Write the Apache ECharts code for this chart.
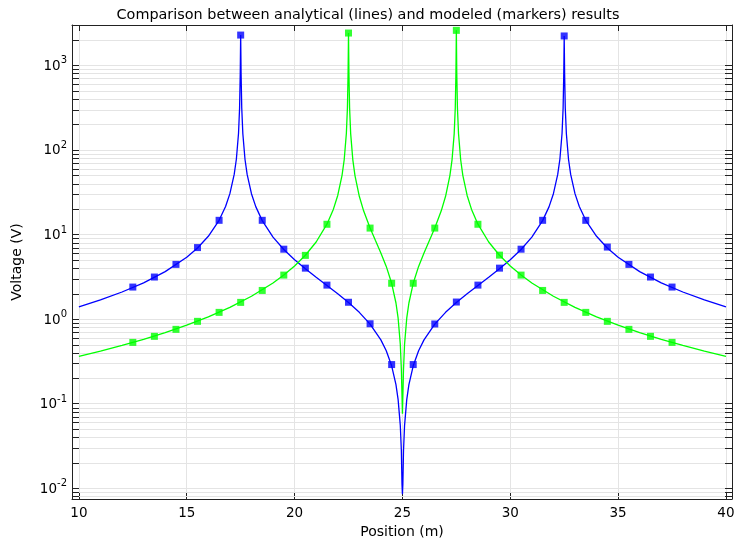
<!DOCTYPE html>
<html><head><meta charset="utf-8">
<script src="https://cdn.jsdelivr.net/npm/echarts@6/dist/echarts.min.js"></script>
<style>html,body{margin:0;padding:0;background:#fff}#c{width:736px;height:541px}</style>
</head><body><div id="c"></div>
<script>
const titleText = 'Comparison between analytical (lines) and modeled (markers) results';
const xName = 'Position (m)';
const yName = 'Voltage (V)';
const xTickLabels = [10, 15, 20, 25, 30, 35, 40];
const yDecades = [-3, -2, -1, 0, 1, 2, 3];
const yMantissas = [2, 3, 4, 5, 6, 7, 8, 9];

// Analytical curves (lines)
const blueLineX = [10, 11, 12, 13, 14, 15, 15.5, 16, 16.5, 16.8, 17, 17.2, 17.3, 17.4, 17.45, 17.48, 17.5,
  17.52, 17.55, 17.6, 17.7, 17.8, 18, 18.2, 18.5, 19, 19.5, 20, 20.5, 21, 21.5, 22, 22.5, 23, 23.5, 24, 24.25,
  24.5, 24.7, 24.8, 24.9, 24.95, 24.98, 25,
  25.02, 25.05, 25.1, 25.2, 25.3, 25.5, 25.75, 26, 26.5, 27, 27.5, 28, 28.5, 29, 29.5, 30, 30.5, 31, 31.5,
  31.8, 32, 32.2, 32.3, 32.4, 32.45, 32.48, 32.5, 32.52, 32.55, 32.6, 32.7, 32.8, 33, 33.2, 33.5, 34, 34.5,
  35, 36, 37, 38, 39, 40];
const blueLineY = [1.396, 1.685, 2.089, 2.684, 3.637, 5.383, 6.926, 9.515, 14.72, 21.43, 30.39, 51.31, 77.47, 156.0, 313.0, 784.0, 2275,
  783.9, 312.9, 155.9, 77.44, 51.27, 30.32, 21.33, 14.58, 9.304, 6.642, 5.024, 3.925, 3.120, 2.498, 1.994, 1.570, 1.202, 0.8722, 0.5683, 0.4229,
  0.2804, 0.1677, 0.1117, 0.05584, 0.02791, 0.01117, 0.0085,
  0.01117, 0.02791, 0.05584, 0.1117, 0.1677, 0.2804, 0.4229, 0.5683, 0.8722, 1.202, 1.570, 1.994, 2.498, 3.120, 3.925, 5.024, 6.642, 9.304, 14.58,
  21.33, 30.32, 51.27, 77.44, 155.9, 312.9, 783.9, 2220, 784.0, 313.0, 156.0, 77.47, 51.31, 30.39, 21.43, 14.72, 9.515, 6.926,
  5.383, 3.637, 2.684, 2.089, 1.685, 1.396];

const greenLineX = [10, 11, 12, 13, 14, 15, 16, 17, 18, 19, 19.5, 20, 20.5, 21, 21.5, 21.8, 22, 22.2, 22.3, 22.4, 22.45, 22.48, 22.5,
  22.52, 22.55, 22.6, 22.7, 22.8, 23, 23.2, 23.5, 23.75, 24, 24.25, 24.5, 24.7, 24.8, 24.9, 24.95, 25,
  25.05, 25.1, 25.2, 25.3, 25.5, 25.75, 26, 26.25, 26.5, 26.8, 27, 27.2, 27.3, 27.4, 27.45, 27.48, 27.5,
  27.52, 27.55, 27.6, 27.7, 27.8, 28, 28.2, 28.5, 29, 29.5, 30, 30.5, 31, 32, 33, 34, 35, 36, 37, 38, 39, 40];
const greenLineY = [0.3634, 0.4190, 0.4885, 0.5771, 0.6928, 0.8480, 1.064, 1.377, 1.860, 2.672, 3.313, 4.240, 5.679, 8.154, 13.25, 19.92, 28.91, 50.00, 76.44, 155.9, 314.9, 791.8, 2404,
  791.8, 314.8, 155.8, 76.19, 49.62, 28.27, 19.02, 11.93, 8.480, 6.057, 4.193, 2.650, 1.549, 1.024, 0.5096, 0.2545, 0.076,
  0.2545, 0.5096, 1.024, 1.549, 2.650, 4.193, 6.057, 8.480, 11.93, 19.02, 28.27, 49.62, 76.19, 155.8, 314.8, 791.8, 2586,
  791.8, 314.9, 155.9, 76.44, 50.00, 28.91, 19.92, 13.25, 8.154, 5.679, 4.240, 3.313, 2.672, 1.860, 1.377, 1.064, 0.8480, 0.6928, 0.5771, 0.4885, 0.4190, 0.3634];

// Modeled results (markers)
const markerX = [12.5, 13.5, 14.5, 15.5, 16.5, 17.5, 18.5, 19.5, 20.5, 21.5, 22.5, 23.5, 24.5,
  25.5, 26.5, 27.5, 28.5, 29.5, 30.5, 31.5, 32.5, 33.5, 34.5, 35.5, 36.5, 37.5];
const blueMarkerY = [2.39, 3.14, 4.43, 7.0, 14.7, 2275, 14.7, 6.7, 4.0, 2.52, 1.58, 0.88, 0.29,
  0.29, 0.875, 1.59, 2.52, 4.0, 6.7, 14.7, 2220, 14.7, 7.1, 4.43, 3.14, 2.39];
const greenMarkerY = [0.53, 0.625, 0.756, 0.94, 1.2, 1.575, 2.18, 3.31, 5.66, 13.2, 2404, 11.9, 2.65,
  2.65, 11.9, 2586, 13.2, 5.7, 3.31, 2.18, 1.575, 1.2, 0.94, 0.756, 0.625, 0.53];

const X_MIN = 9.68, X_MAX = 40.28;
const Y_MIN = 0.00747, Y_MAX = 2992;
const FONT = 'DejaVu Sans';
const BLUE = '#0000ff', GREEN = '#00ff00';
const AXIS_COLOR = '#222';
const GRID_COLOR = '#e4e4e4';

const yMinorTicks = [];
yDecades.forEach(e => yMantissas.forEach(m => {
  const v = m * Math.pow(10, e);
  if (v >= Y_MIN && v <= Y_MAX) yMinorTicks.push(v);
}));

const pairs = (xs, ys) => xs.map((x, i) => [x, ys[i]]);

function isDecade(v) {
  const e = Math.log10(v);
  return Math.abs(e - Math.round(e)) < 1e-6;
}

const chart = echarts.init(document.getElementById('c'), null, {renderer: 'canvas'});
const baseX = {
  type: 'value', min: X_MIN, max: X_MAX,
  axisLine: {show: true, onZero: false, lineStyle: {color: AXIS_COLOR, width: 1}},
  splitLine: {show: false}
};
const baseY = {
  type: 'log', logBase: 10, min: Y_MIN, max: Y_MAX,
  axisLine: {show: true, onZero: false, lineStyle: {color: AXIS_COLOR, width: 1}},
  splitLine: {show: false}
};
chart.setOption({
  animation: false,
  backgroundColor: '#fff',
  textStyle: {fontFamily: FONT},
  title: {
    text: titleText, left: 'center', top: 3,
    textStyle: {fontFamily: FONT, fontSize: 14.4, fontWeight: 'normal', color: '#000'}
  },
  grid: {left: 72, right: 4, top: 25, bottom: 42, containLabel: false, outerBoundsMode: 'none'},
  xAxis: [
    Object.assign({}, baseX, {
      position: 'bottom',
      name: xName, nameLocation: 'middle', nameGap: 19,
      nameTextStyle: {fontFamily: FONT, fontSize: 14, color: '#000'},
      axisTick: {show: true, inside: true, length: 6, lineStyle: {color: AXIS_COLOR}},
      axisLabel: {
        show: true, margin: 7, fontFamily: FONT, fontSize: 13.5, color: '#000',
        showMinLabel: true, showMaxLabel: true,
        formatter: v => xTickLabels.indexOf(Math.round(v * 1000) / 1000) >= 0 ? String(v) : ''
      },
      splitLine: {show: true, lineStyle: {color: GRID_COLOR, width: 1}}
    }),
    Object.assign({}, baseX, {
      position: 'top',
      axisTick: {show: true, inside: true, length: 6, lineStyle: {color: AXIS_COLOR}},
      axisLabel: {show: false}
    })
  ],
  yAxis: [
    Object.assign({}, baseY, {
      position: 'left',
      name: yName, nameLocation: 'middle', nameGap: 48, nameRotate: 90,
      nameTextStyle: {fontFamily: FONT, fontSize: 14, color: '#000'},
      axisTick: {show: true, inside: true, length: 7, lineStyle: {color: AXIS_COLOR}},
      axisLabel: {
        show: true, margin: 5, color: '#000',
        formatter: v => {
          if (!isDecade(v)) return '';
          const e = Math.round(Math.log10(v));
          return '{b|10}{s|' + e + '}';
        },
        rich: {
          b: {fontFamily: FONT, fontSize: 13.5, color: '#000', lineHeight: 19, padding: [2, 0, 0, 0]},
          s: {fontFamily: FONT, fontSize: 10, color: '#000', verticalAlign: 'top', lineHeight: 11}
        }
      },
      splitLine: {show: true, lineStyle: {color: GRID_COLOR, width: 1}}
    }),
    Object.assign({}, baseY, {
      position: 'right',
      axisTick: {show: true, inside: true, length: 7, lineStyle: {color: AXIS_COLOR}},
      axisLabel: {show: false}
    })
  ],
  series: [
    {
      type: 'custom', name: 'minor', xAxisIndex: 0, yAxisIndex: 0, z: 1, silent: true, clip: false,
      data: yMinorTicks.map(v => [X_MIN, v]),
      renderItem: (params, api) => {
        const pt = api.coord([X_MIN, api.value(1)]);
        const cs = params.coordSys;
        const y = Math.round(pt[1]) + 0.5;
        return {type: 'group', children: [
          {type: 'line', shape: {x1: cs.x, y1: y, x2: cs.x + cs.width, y2: y}, style: {stroke: GRID_COLOR, lineWidth: 1}},
          {type: 'line', shape: {x1: cs.x, y1: y, x2: cs.x + 7, y2: y}, style: {stroke: AXIS_COLOR, lineWidth: 1}},
          {type: 'line', shape: {x1: cs.x + cs.width - 7, y1: y, x2: cs.x + cs.width, y2: y}, style: {stroke: AXIS_COLOR, lineWidth: 1}}
        ]};
      }
    },
    {
      type: 'line', name: 'blue analytical', xAxisIndex: 0, yAxisIndex: 0, z: 3,
      data: pairs(blueLineX, blueLineY), showSymbol: false, symbol: 'none',
      lineStyle: {color: BLUE, width: 1.3}, silent: true
    },
    {
      type: 'line', name: 'green analytical', xAxisIndex: 0, yAxisIndex: 0, z: 3,
      data: pairs(greenLineX, greenLineY), showSymbol: false, symbol: 'none',
      lineStyle: {color: GREEN, width: 1.3}, silent: true
    },
    {
      type: 'scatter', name: 'blue modeled', xAxisIndex: 0, yAxisIndex: 0, z: 4,
      data: pairs(markerX, blueMarkerY), symbol: 'rect', symbolSize: 7,
      itemStyle: {color: BLUE}, silent: true
    },
    {
      type: 'scatter', name: 'green modeled', xAxisIndex: 0, yAxisIndex: 0, z: 4,
      data: pairs(markerX, greenMarkerY), symbol: 'rect', symbolSize: 7,
      itemStyle: {color: GREEN}, silent: true
    }
  ]
});
</script>
</body></html>
